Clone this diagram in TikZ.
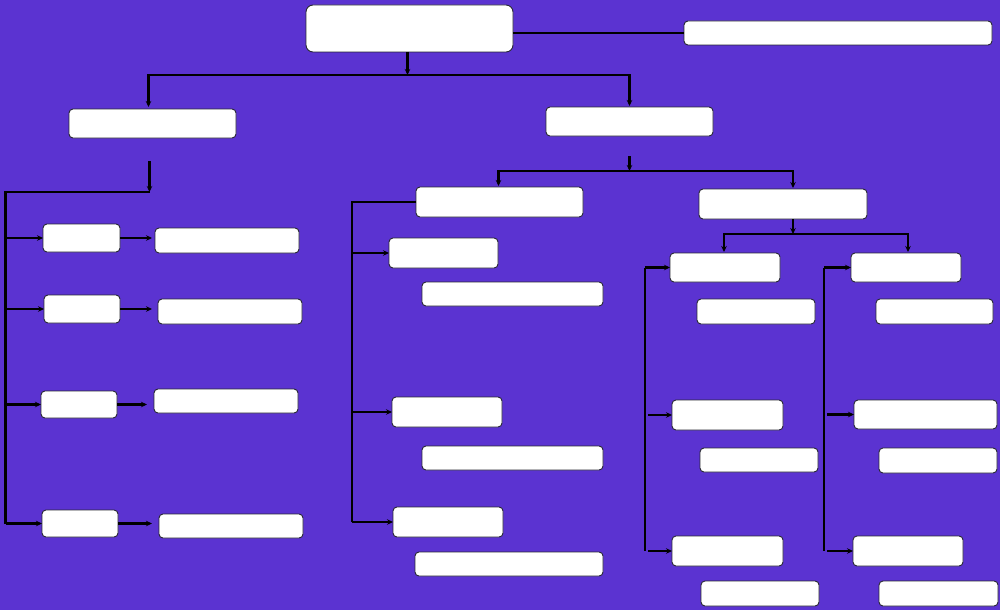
\documentclass[tikz,border=0pt]{standalone}
\usetikzlibrary{arrows.meta,calc}
\definecolor{bgc}{RGB}{91,51,209}
\definecolor{edgec}{RGB}{40,40,50}
\tikzset{
  box/.style={draw=edgec, line width=0.9pt, fill=white, rounded corners=4pt, inner sep=0pt, outer sep=0pt},
  ln/.style={draw=black, line width=2.2pt},
  arr/.style={ln, -{Stealth[length=6pt,width=5.5pt]}},
}
\newcommand{\bx}[6][]{\node[box,#1, minimum width={(#5-#3)*1pt}, minimum height={(#6-#4)*1pt}] (#2) at ({(#3+#5)/2},{(#4+#6)/2}) {};}
\begin{document}
\begin{tikzpicture}[x=1pt,y=-1pt]
\fill[bgc] (0,0) rectangle (1000,610);
\useasboundingbox (0,0) rectangle (1000,610);
% top
\bx[rounded corners=7pt]{root}{306}{5}{513}{52}
\bx{long}{684}{21}{992}{45}
\bx{L1}{69}{109}{236}{138}
\bx{R1}{546}{107}{713}{136}
% left column
\bx{A1}{43}{224}{120}{252}
\bx{B1}{155}{228}{299}{253}
\bx{A2}{44}{295}{120}{323}
\bx{B2}{158}{299}{302}{324}
\bx{A3}{41}{391}{117}{418}
\bx{B3}{154}{389}{298}{413}
\bx{A4}{42}{510}{118}{537}
\bx{B4}{159}{514}{303}{538}
% middle column
\bx{M0}{416}{187}{583}{217}
\bx{M1}{389}{238}{498}{268}
\bx{N1}{422}{282}{603}{306}
\bx{M2}{392}{397}{502}{427}
\bx{N2}{422}{446}{603}{470}
\bx{M3}{393}{507}{503}{537}
\bx{N3}{415}{552}{603}{576}
% right part
\bx{R2}{699}{189}{867}{219}
\bx{P0}{670}{253}{780}{282}
\bx{Q0}{851}{253}{961}{282}
\bx{S0}{697}{299}{815}{324}
\bx{T0}{876}{299}{993}{324}
\bx{P1}{672}{400}{783}{430}
\bx{S1}{700}{448}{818}{472}
\bx{Q1}{854}{400}{997}{429}
\bx{T1}{879}{448}{997}{473}
\bx{P2}{672}{536}{783}{566}
\bx{S2}{701}{581}{819}{606}
\bx{Q2}{853}{536}{963}{566}
\bx{T2}{879}{581}{998}{606}
% connectors: top
\draw[ln] (root.east |- long.west) -- (long.west);
\draw[arr] ($(root.south)+(-2,0)$) -- ++(0,23) coordinate (j0);
\draw[arr] (j0) -| ($(L1.north)+(-4,-2)$);
\draw[arr] (j0) -| ($(R1.north)+(0,-1)$);
% left branch
\draw[arr] ($(L1.south)+(-3,23)$) -- ++(0,31) coordinate (c1);
\coordinate (lv) at ($(c1)+(-144,0)$);
\draw[ln] (c1) -- (lv) -- (lv |- A4.west);
\draw[arr] (lv |- A1.west) -- (A1.west);
\draw[arr] (lv |- A2.west) -- (A2.west);
\draw[arr] (lv |- A3.west) -- (A3.west);
\draw[arr] (lv |- A4.west) -- (A4.west);
\draw[arr, shorten >=3pt] (A1.east) -- (A1.east -| B1.west);
\draw[arr, shorten >=6pt] (A2.east) -- (A2.east -| B2.west);
\draw[arr, shorten >=7pt] (A3.east) -- (A3.east -| B3.west);
\draw[arr, shorten >=7pt] (A4.east) -- (A4.east -| B4.west);
% right branch
\draw[arr] ($(R1.south)+(0,20)$) -- ++(0,15) coordinate (c2);
\draw[arr] (c2) -| ($(M0.north)+(-1,-1)$);
\draw[arr] (c2) -| ($(R2.north)+(10,-1)$);
% middle column
\draw[ln] (M0.west) -- ++(-64,0) coordinate (mv) -- (mv |- M3.west);
\draw[arr] (mv |- M1.west) -- (M1.west);
\draw[arr] (mv |- M2.west) -- (M2.west);
\draw[arr] (mv |- M3.west) -- (M3.west);
% R2 children
\draw[arr] ($(R2.south)+(10,0)$) -- ++(0,15) coordinate (c3);
\draw[arr] (c3) -| ($(P0.north)+(-1,-1)$);
\draw[arr] (c3) -| ($(Q0.north)+(2,-1)$);
\coordinate (pv) at ($(P0.west)+(-25,0)$);
\draw[ln] (pv) -- (pv |- P2.west);
\draw[arr] (pv) -- (P0.west);
\draw[arr] ($(pv |- P1.west)+(3,0)$) -- (P1.west);
\draw[arr] ($(pv |- P2.west)+(3,0)$) -- (P2.west);
\coordinate (qv) at ($(Q0.west)+(-27,0)$);
\draw[ln] (qv) -- (qv |- Q2.west);
\draw[arr] (qv) -- (Q0.west);
\draw[arr] ($(qv |- Q1.west)+(3,0)$) -- (Q1.west);
\draw[arr] ($(qv |- Q2.west)+(3,0)$) -- (Q2.west);
\end{tikzpicture}
\end{document}
